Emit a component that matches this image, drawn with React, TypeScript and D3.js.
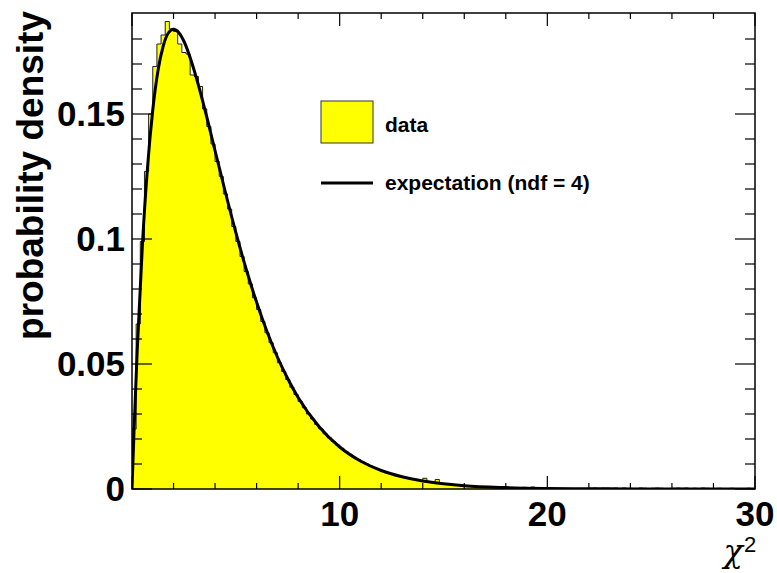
import React from "react";
import * as d3 from "d3";

// ---- data ----
const BIN_LOW = 0;
const BIN_WIDTH = 0.2;
// histogram contents (probability density per 0.2 bin)
const histValues: number[] = [
  0.024, 0.066, 0.099, 0.127, 0.150, 0.169, 0.178, 0.1816, 0.187, 0.184,
  0.183, 0.178, 0.1746, 0.174, 0.1656, 0.165, 0.161, 0.152, 0.145, 0.138,
  0.131, 0.125, 0.118, 0.112, 0.105, 0.099, 0.093, 0.087, 0.082, 0.0765,
  0.0718, 0.067, 0.0625, 0.0585, 0.0545, 0.0505, 0.047, 0.0438, 0.0407, 0.0378,
  0.035, 0.0325, 0.030, 0.028, 0.0258, 0.024, 0.0221, 0.0205, 0.019, 0.0176,
  0.0163, 0.015, 0.0139, 0.0127, 0.0118, 0.0108, 0.010, 0.0092, 0.0085, 0.0078,
  0.0072, 0.0066, 0.0061, 0.0056, 0.0051, 0.0047, 0.0044, 0.004, 0.0036, 0.0033,
  0.0043, 0.003, 0.0027, 0.0038, 0.0022, 0.0022, 0.0019, 0.0017, 0.0016, 0.0014,
  0.0013, 0.0012, 0.0011, 0.001, 0.0009, 0.0009, 0.0007, 0.0007, 0.0006, 0.0006,
  0.0005, 0.0005, 0.0004, 0.0004, 0.0007, 0.0003, 0.0008, 0.0003, 0.0003, 0.0002,
  0.0002, 0.0002, 0.0002, 0.0001, 0.0002, 0.0001, 0.0001, 0.0002, 0.0001, 0.0001,
  0.0003, 0.0004, 0.0003, 0.0004, 0.0004, 0.0003, 0.0004, 0.0002, 0.0004, 0.0001,
  0.0001, 0.0002, 0.0004, 0.0003, 0.0002, 0.0003, 0.0004, 0.0003, 0.0002, 0.0001,
  0.0003, 0.0004, 0.0003, 0.0004, 0.0001, 0.0003, 0.0002, 0.0004, 0.0003, 0.0001,
  0.0002, 0.0003, 0.0001, 0.0002, 0.0003, 0.0002, 0.0001, 0.0002, 0.0003, 0.0001,
];

// expectation curve samples (chi2 with ndf = 4)
const curveX: number[] = [0, 0.1, 0.25, 0.5, 0.75, 1, 1.25, 1.5, 1.75, 2, 2.25, 2.5, 3, 3.5, 4, 4.5, 5, 5.5, 6, 6.5, 7, 7.5, 8, 9, 10, 11, 12, 13, 14, 15, 16, 18, 20, 22, 25, 30];
const curveY: number[] = [0, 0.0238, 0.0552, 0.0974, 0.1289, 0.1516, 0.1673, 0.1771, 0.1824, 0.1839, 0.1826, 0.1791, 0.1673, 0.1521, 0.1353, 0.1186, 0.1026, 0.0879, 0.0747, 0.063, 0.0528, 0.0441, 0.0366, 0.025, 0.0168, 0.0112, 0.0074, 0.0049, 0.0032, 0.0021, 0.0013, 0.00056, 0.00023, 0.00009, 0.00002, 0];

const xMajorTicks: number[] = [0, 10, 20, 30];
const xTickLabels: string[] = ["", "10", "20", "30"];
const yMajorTicks: number[] = [0, 0.05, 0.1, 0.15];
const yTickLabels: string[] = ["0", "0.05", "0.1", "0.15"];
const xDomain: [number, number] = [0, 30];
const yDomain: [number, number] = [0, 0.1904];

const legendLabels: string[] = ["data", "expectation (ndf = 4)"];
const yTitle = "probability density";

// ---- layout ----
const W = 777, H = 573;
const L = 132, R = 755, T = 13, B = 489;
const FONT = "'Liberation Sans', Arial, Helvetica, sans-serif";

export default function App() {
  const x = d3.scaleLinear().domain(xDomain).range([L, R]);
  const y = d3.scaleLinear().domain(yDomain).range([B, T]);

  // histogram step outline
  const stepPts: [number, number][] = [[x(BIN_LOW), y(0)]];
  histValues.forEach((v, i) => {
    const x0 = BIN_LOW + i * BIN_WIDTH;
    const x1 = x0 + BIN_WIDTH;
    stepPts.push([x(x0), y(v)]);
    stepPts.push([x(x1), y(v)]);
  });
  stepPts.push([x(BIN_LOW + histValues.length * BIN_WIDTH), y(0)]);
  const histPath = d3.line()(stepPts) || "";

  const curvePts: [number, number][] = curveX.map((cx, i) => [x(cx), y(curveY[i])]);
  const curvePath = d3.line().curve(d3.curveMonotoneX)(curvePts) || "";

  const xMinor = d3.range(0, 30.001, 2);
  const yMinor = d3.range(0, 0.19, 0.01);

  return (
    <svg width={W} height={H} style={{ position: "absolute", left: 0, top: 0, background: "#fff" }}
      fontFamily={FONT} fontWeight="bold">
      <defs>
        <clipPath id="frame">
          <rect x={L} y={T} width={R - L} height={B - T} />
        </clipPath>
      </defs>
      <rect x={0} y={0} width={W} height={H} fill="#fff" />
      <g clipPath="url(#frame)">
        <path d={histPath} fill="#ffff00" stroke="#222" strokeWidth={1} />
        <path d={curvePath} fill="none" stroke="#000" strokeWidth={3} strokeLinejoin="round" />
      </g>
      {/* frame */}
      <rect x={L} y={T} width={R - L} height={B - T} fill="none" stroke="#000" strokeWidth={1.5} />
      {/* x ticks */}
      {xMinor.map((t) => {
        const major = xMajorTicks.includes(Math.round(t));
        const len = major ? 13 : 6;
        return (
          <g key={"xt" + t}>
            <line x1={x(t)} x2={x(t)} y1={B} y2={B - len} stroke="#000" strokeWidth={1.2} />
            <line x1={x(t)} x2={x(t)} y1={T} y2={T + len} stroke="#000" strokeWidth={1.2} />
          </g>
        );
      })}
      {/* y ticks */}
      {yMinor.map((t) => {
        const major = yMajorTicks.some((m) => Math.abs(m - t) < 1e-6);
        const len = major ? 20 : 10;
        return (
          <g key={"yt" + t}>
            <line x1={L} x2={L + len} y1={y(t)} y2={y(t)} stroke="#000" strokeWidth={1.2} />
            <line x1={R} x2={R - len} y1={y(t)} y2={y(t)} stroke="#000" strokeWidth={1.2} />
          </g>
        );
      })}
      {/* x tick labels */}
      {xMajorTicks.map((t, i) => (
        <text key={"xl" + t} x={x(t)} y={526} textAnchor="middle" fontSize={35}>{xTickLabels[i]}</text>
      ))}
      {/* y tick labels */}
      {yMajorTicks.map((t, i) => (
        <text key={"yl" + t} x={125} y={y(t) + 12} textAnchor="end" fontSize={35}>{yTickLabels[i]}</text>
      ))}
      {/* axis titles */}
      <text transform={`translate(43,${T - 2}) rotate(-90)`} textAnchor="end" fontSize={37}>{yTitle}</text>
      <text x={743} y={562} textAnchor="end" fontSize={32} fontWeight="normal" fontFamily="'DejaVu Serif', serif" fontStyle="italic">χ</text>
      <text x={744} y={552} textAnchor="start" fontSize={22} fontWeight="normal">2</text>
      {/* legend */}
      <rect x={321} y={101} width={52} height={42} fill="#ffff00" stroke="#333" strokeWidth={1} />
      <text x={385} y={132} fontSize={21}>{legendLabels[0]}</text>
      <line x1={321} x2={373} y1={183} y2={183} stroke="#000" strokeWidth={3} />
      <text x={385} y={190} fontSize={21}>{legendLabels[1]}</text>
    </svg>
  );
}
